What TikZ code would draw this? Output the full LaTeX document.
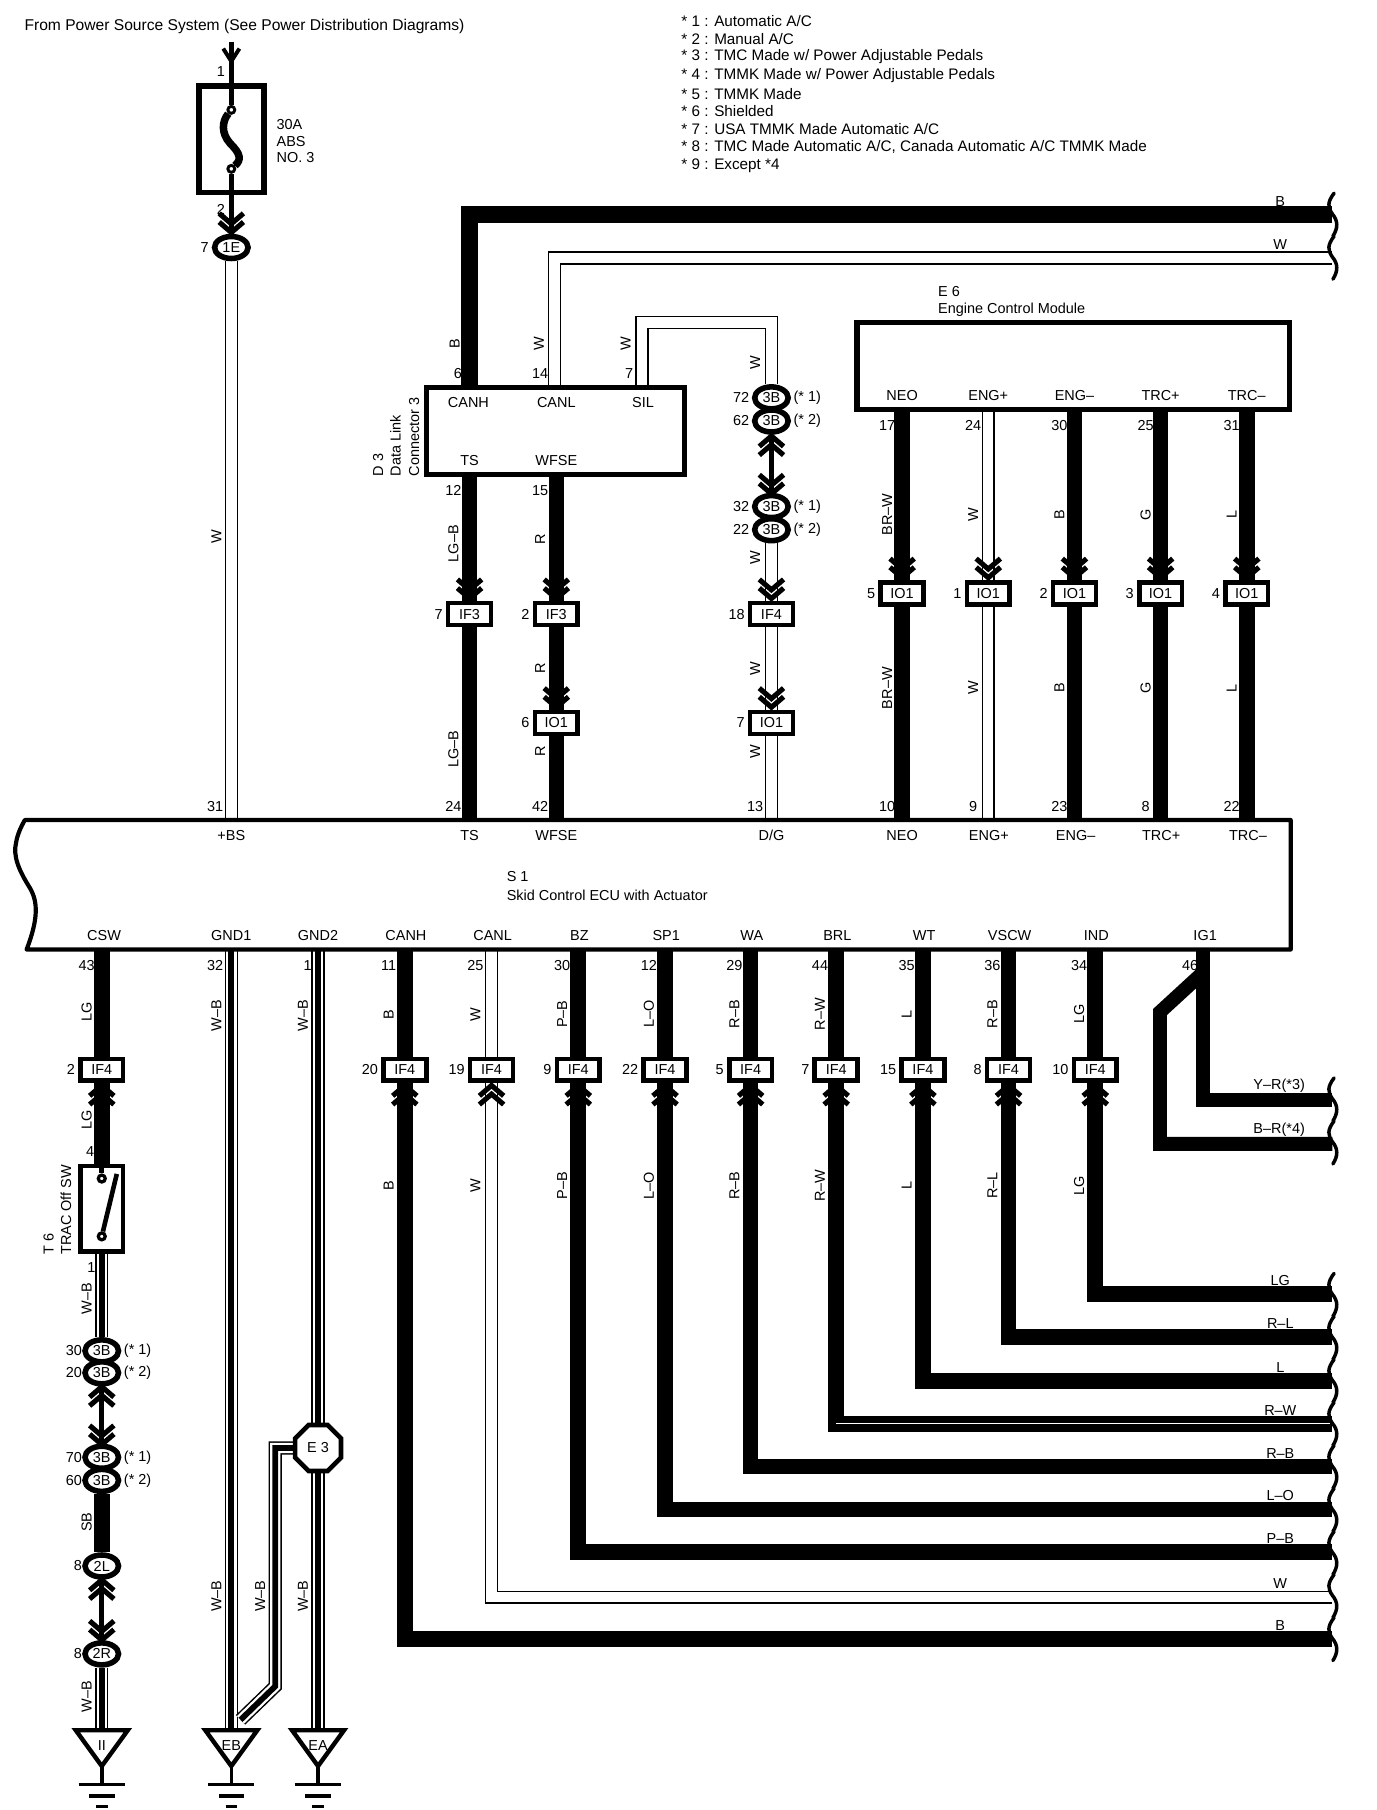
\documentclass[tikz,border=0pt]{standalone}
\usepackage{fontspec}
\setmainfont{Liberation Sans}
\usetikzlibrary{shapes.geometric,calc}
\pgfdeclarelayer{paper}
\pgfdeclarelayer{wires}
\pgfsetlayers{paper,wires,main}
\newcounter{tc}
\tikzset{
  txt/.style={inner sep=0pt,font=\fontsize{12.5}{13}\selectfont},
  bwire/.style={line width=13.5,draw=black,line join=miter},
  wwire/.style={double=white,double distance=9,line width=1.3,draw=black,line join=miter},
  corewire/.style={line width=5,draw=black,line join=miter},
  thinarrow/.style={line width=4,draw=black},
  cbox/.style={draw=black,fill=white,line width=4,minimum width=37,minimum height=19,inner sep=0pt,font=\fontsize{12.5}{13}\selectfont},
  oval/.style={ellipse,draw=black,fill=white,line width=4.8,minimum width=29,minimum height=19,inner sep=0pt,font=\fontsize{12.5}{13}\selectfont},
  bigbox/.style={draw=black,line width=4.5,inner sep=0pt},
  chev/.style={line width=4.4,draw=black,line join=miter},
  brk/.style={line width=3,draw=black,line cap=round},
}
\newcommand\tx[3]{\stepcounter{tc}\node[txt,name=t\arabic{tc}] at (#1,#2) {#3};}
\newcommand\lx[3]{\stepcounter{tc}\node[txt,anchor=west,name=t\arabic{tc}] at (#1,#2) {#3};}
\newcommand\rx[3]{\stepcounter{tc}\node[txt,anchor=east,name=t\arabic{tc}] at (#1,#2) {#3};}
\newcommand\vx[3]{\stepcounter{tc}\node[txt,rotate=90,name=t\arabic{tc}] at (#1,#2) {#3};}
\newcommand\vl[3]{\stepcounter{tc}\node[txt,rotate=90,anchor=west,name=t\arabic{tc}] at (#1,#2) {#3};}
\newcommand\onw[1]{\begin{pgfonlayer}{wires}#1\end{pgfonlayer}}
% chevrons: #1 x, #2 y of the tip
\newcommand\chevd[2]{\draw[chev] (#1-10.5,#2-12) -- (#1,#2-3) -- (#1+10.5,#2-12);\draw[chev] (#1-10.5,#2-19.5) -- (#1,#2-10.5) -- (#1+10.5,#2-19.5);}
\newcommand\chevu[2]{\draw[chev] (#1-10.5,#2+12) -- (#1,#2+3) -- (#1+10.5,#2+12);\draw[chev] (#1-10.5,#2+19.5) -- (#1,#2+10.5) -- (#1+10.5,#2+19.5);}
\newcommand\brkline[2]{\foreach \k in {1,...,#2}{\pgfmathsetmacro\yy{#1+37.2*(\k-1)}
  \draw[brk] (1153.5,\yy) .. controls (1147.5,\yy+8) and (1148,\yy+12) .. (1152,\yy+18) .. controls (1157,\yy+24) and (1157,\yy+30) .. (1152.5,\yy+37.2);}}
\newcommand\gnd[3]{%
  \coordinate (#1top) at (#2,1495);
  \draw[line width=3.8,fill=white,line join=miter] (#2-22.5,1496) -- (#2+22.5,1496) -- (#2,1527) -- cycle;
  \node[txt,name=#1] at (#2,1509) {#3};
  \draw[line width=3] (#2,1528) -- (#2,1543);
  \draw[line width=3] (#2-20,1543) -- (#2+20,1543);
  \draw[line width=3] (#2-11,1553) -- (#2+11,1553);
  \draw[line width=3] (#2-5,1562) -- (#2+5,1562);
}
\begin{document}
\begin{tikzpicture}[x=1pt,y=-1pt]
\useasboundingbox (0,0) rectangle (1190,1565);
\begin{pgfonlayer}{paper}\fill[white] (0,0) rectangle (1190,1565);\end{pgfonlayer}

% ---------- titles and notes
\stepcounter{tc}\node[txt,anchor=west,name=title,font=\fontsize{13.5}{14}\selectfont] at (21,22.5) {From Power Source System (See Power Distribution Diagrams)};
\foreach \yy/\s in {18.5/{* 1 : Automatic A/C},34/{* 2 : Manual A/C},49/{* 3 : TMC Made w/ Power Adjustable Pedals},65/{* 4 : TMMK Made w/ Power Adjustable Pedals},81/{* 5 : TMMK Made},96/{* 6 : Shielded},112/{* 7 : USA TMMK Made Automatic A/C},127/{* 8 : TMC Made Automatic A/C, Canada Automatic A/C TMMK Made},143.5/{* 9 : Except *4}}{
  \stepcounter{tc}\node[txt,anchor=west,name=t\arabic{tc},font=\fontsize{13.2}{14}\selectfont] at (589,\yy) {\s};
}

% ---------- ECU S1
\draw[line width=3.6,line join=round] (21.5,709) -- (1116,709) -- (1116,821) -- (23,821)
  .. controls (33,795) and (33,780) .. (26,768)
  .. controls (16,752) and (11,740) .. (14,728)
  .. controls (15,722) and (18,715) .. (21.5,709) -- cycle;
\lx{438}{758}{S 1}
\lx{438}{774}{Skid Control ECU with Actuator}

% ---------- fuse
\node[draw=black,line width=5,minimum width=56,minimum height=92,inner sep=0pt] (fuse) at (200,120.5) {};
\coordinate (feed) at (200,36);
\node[circle,draw=black,fill=white,line width=2.5,minimum size=6,inner sep=0pt] (fc1) at (200,95) {};
\node[circle,draw=black,fill=white,line width=2.5,minimum size=6,inner sep=0pt] (fc2) at (200,146) {};
\node[oval] (c1E) at (200,214) {1E};
\onw{\draw[line width=4] (feed) -- (fc1);
  \draw[line width=4] (fc2) -- (c1E);}
\draw[line width=6.5] (fc1) .. controls (192,105) and (191,115) .. (199,124) .. controls (208,133) and (209,138) .. (fc2);
\draw[line width=3.4] (193,42) -- (200,53) -- (207,42);
\chevd{200}{204}
\tx{191}{62}{1}\tx{191}{181}{2}
\lx{239}{108}{30A}\lx{239}{122}{ABS}\lx{239}{136}{NO. 3}
\tx{177}{214}{7}
\coordinate (bs) at (200,709);
\onw{\draw[wwire] (c1E) -- (bs);}
\vx{187}{464}{W}\tx{186}{697}{31}

% ---------- top pin labels of the ECU
\foreach \n/\x in {+BS/200,TS/406,WFSE/481,D\slash G/667,NEO/780,ENG+/855,ENG–/930,TRC+/1004,TRC–/1079}{\tx{\x}{722}{\n}}

% ---------- D3
\node[bigbox,minimum width=223,minimum height=75] (d3) at (480.5,372.5) {};
\tx{405}{348}{CANH}\tx{481}{348}{CANL}\tx{556}{348}{SIL}\tx{406}{398}{TS}\tx{481}{398}{WFSE}
\vl{327}{412}{D 3}\vl{342}{412}{Data Link}\vl{358}{412}{Connector 3}
\coordinate (bkB) at (1152,185.5);
\coordinate (bkW) at (1152,223);
\coordinate (pinH) at (406,335);
\coordinate (pinL) at (479.5,335);
\coordinate (pinS) at (555,335);
\coordinate (pinD) at (667,335);
\node[oval] (c72) at (667,344) {3B};
\node[oval] (c62) at (667,364) {3B};
\onw{\draw[bwire,line width=15] (bkB) -| (pinH);
  \draw[wwire] (bkW) -| (pinL);
  \draw[wwire] (pinS) |- (667,279) -- (c72);}
\vx{393}{297}{B}\vx{466}{297}{W}\vx{541}{297}{W}\vx{653}{314}{W}
\tx{396}{323}{6}\tx{467}{323}{14}\tx{544}{323}{7}
\tx{1107}{174}{B}\tx{1107}{211}{W}
\brkline{167}{2}

% ---------- D/G column
\rx{648}{344}{72}\rx{648}{364}{62}\lx{686}{344}{(* 1)}\lx{686}{364}{(* 2)}
\node[oval] (c32) at (667,438) {3B};
\node[oval] (c22) at (667,458) {3B};
\onw{\draw[thinarrow] (c62) -- (c32);}
\chevu{667}{374}\chevd{667}{430}
\rx{648}{438}{32}\rx{648}{458}{22}\lx{686}{438}{(* 1)}\lx{686}{458}{(* 2)}
\node[cbox] (dgIF) at (667,531) {IF4};
\node[cbox] (dgIO) at (667,625) {IO1};
\coordinate (dg) at (667,709);
\onw{\draw[wwire] (c22) -- (dgIF);\draw[wwire] (dgIF) -- (dgIO);\draw[wwire] (dgIO) -- (dg);}
\chevd{667}{520.5}\chevd{667}{614.5}
\vx{653}{482}{W}\vx{653}{578}{W}\vx{653}{650}{W}
\rx{644}{531}{18}\rx{644}{625}{7}\tx{653}{697}{13}

% ---------- TS and WFSE columns
\node[cbox] (tsIF) at (406,531) {IF3};
\node[cbox] (wfIF) at (481,531) {IF3};
\node[cbox] (wfIO) at (481,625) {IO1};
\coordinate (d3ts) at (406,412);\coordinate (d3wf) at (481,412);
\coordinate (ets) at (406,709);\coordinate (ewf) at (481,709);
\onw{\draw[bwire] (d3ts) -- (tsIF);\draw[bwire] (tsIF) -- (ets);
  \draw[bwire] (d3wf) -- (wfIF);\draw[bwire] (wfIF) -- (wfIO);\draw[bwire] (wfIO) -- (ewf);}
\chevd{406}{520.5}\chevd{481}{520.5}\chevd{481}{614.5}
\tx{392}{424}{12}\tx{467}{424}{15}
\vx{392}{470}{LG–B}\vx{467}{466}{R}\vx{392}{648}{LG–B}\vx{467}{578}{R}\vx{467}{650}{R}
\rx{383}{531}{7}\rx{458}{531}{2}\rx{458}{625}{6}
\tx{392}{697}{24}\tx{467}{697}{42}

% ---------- E6
\node[bigbox,minimum width=374,minimum height=75] (e6) at (928,316.5) {};
\lx{811}{252}{E 6}\lx{811}{268}{Engine Control Module}
\foreach \i/\x/\nm/\up/\st/\wl/\cn/\ln in {a/780/NEO/17/bwire/BR–W/5/10,b/854.5/ENG+/24/wwire/W/1/9,c/929/ENG–/30/bwire/B/2/23,d/1003.5/TRC+/25/bwire/G/3/8,e/1078/TRC–/31/bwire/L/4/22}{
  \tx{\x}{342}{\nm}
  \tx{\x-13}{368}{\up}
  \coordinate (etop\i) at (\x,354);
  \coordinate (ebot\i) at (\x,709);
  \node[cbox] (io\i) at (\x,513) {IO1};
  \onw{\draw[\st] (etop\i) -- (io\i);\draw[\st] (io\i) -- (ebot\i);}
  \chevd{\x}{502.5}
  \vx{\x-13}{445}{\wl}\vx{\x-13}{595}{\wl}
  \rx{\x-23}{513}{\cn}
  \tx{\x-13}{697}{\ln}
}

% ---------- ECU bottom columns
\tx{90}{809}{CSW}\tx{200}{809}{GND1}\tx{275}{809}{GND2}\tx{1042}{809}{IG1}
\tx{75}{835}{43}\tx{186}{835}{32}\tx{266}{835}{1}\tx{1029}{835}{46}
\foreach \i/\x/\nm/\pn/\st/\ua/\ub/\cn/\yb in {
  p/350/CANH/11/bwire/B/B/20/1417,
  q/425/CANL/25/wwire/W/W/19/1381,
  r/500/BZ/30/bwire/P–B/P–B/9/1342,
  s/575/SP1/12/bwire/L–O/L–O/22/1305,
  t/649/WA/29/bwire/R–B/R–B/5/1268,
  u/723/BRL/44/bwire/R–W/R–W/7/1231,
  v/798/WT/35/bwire/L/L/15/1194,
  w/872/VSCW/36/bwire/R–B/R–L/8/1156,
  x/947/IND/34/bwire/LG/LG/10/1119}{
  \tx{\x+1}{809}{\nm}
  \tx{\x-14}{835}{\pn}
  \coordinate (bp\i) at (\x,821);
  \coordinate (bk\i) at (1152,\yb);
  \node[cbox] (if\i) at (\x,925) {IF4};
  \onw{\draw[\st] (bp\i) -- (if\i);\draw[\st] (if\i) |- (bk\i);}
  \chevu{\x}{935.5}
  \vx{\x-14}{877}{\ua}\vx{\x-14}{1025}{\ub}
  \rx{\x-23}{925}{\cn}
  \tx{1107}{\yb-11.5}{\ub}
}
\draw[white,line width=0.9] (723,1231) -- (1150,1231);
\brkline{1101}{9}

% ---------- IG1
\coordinate (ig) at (1040,821);
\coordinate (igA) at (1152,951);
\coordinate (igB) at (1152,989);
\coordinate (igS) at (1040,841);
\coordinate (igC) at (1003,875);
\onw{\draw[line width=12.5,line join=miter] (ig) |- (igA);
  \draw[line width=12,line join=miter] (igS) -- (igC) |- (igB);}
\tx{1106}{939}{Y–R(*3)}\tx{1106}{977}{B–R(*4)}
\brkline{932}{2}

% ---------- CSW column with T6
\node[cbox] (csIF) at (88,925) {IF4};
\node[draw=black,fill=white,line width=4,minimum width=37,minimum height=74,inner sep=0pt] (t6) at (88,1045) {};
\coordinate (csw) at (88,821);
\onw{\draw[bwire] (csw) -- (csIF);\draw[bwire] (csIF) -- (t6);}
\chevu{88}{935.5}
\rx{65}{925}{2}
\vx{75}{875}{LG}\vx{75}{968}{LG}\tx{78}{996}{4}
\vl{42}{1085}{T 6}\vl{57}{1085}{TRAC Off SW}
\node[circle,draw=black,fill=white,line width=2.8,minimum size=6,inner sep=0pt] (sw1) at (88,1019) {};
\node[circle,draw=black,fill=white,line width=2.8,minimum size=6,inner sep=0pt] (sw2) at (88,1069) {};
\draw[line width=4] (88,1006) -- (sw1);
\draw[line width=4] (sw2) -- (101,1015);
\node[oval] (c30) at (88,1168) {3B};
\node[oval] (c20) at (88,1187) {3B};
\node[oval] (c70) at (88,1260) {3B};
\node[oval] (c60) at (88,1280) {3B};
\node[oval] (c2L) at (88,1354) {2L};
\node[oval] (c2R) at (88,1430) {2R};
\onw{\draw[wwire] (t6) -- (c30);\draw[corewire] (t6) -- (c30);
  \draw[thinarrow] (c20) -- (c70);
  \draw[bwire] (c60) -- (c2L);
  \draw[thinarrow] (c2L) -- (c2R);}
\chevu{88}{1196}\chevd{88}{1252}\chevu{88}{1363}\chevd{88}{1421}
\tx{79}{1096}{1}\vx{75}{1123}{W–B}
\rx{71}{1168}{30}\rx{71}{1187}{20}\rx{71}{1260}{70}\rx{71}{1280}{60}
\lx{107}{1168}{(* 1)}\lx{107}{1187}{(* 2)}\lx{107}{1260}{(* 1)}\lx{107}{1280}{(* 2)}
\vx{75}{1316}{SB}\rx{71}{1354}{8}\rx{71}{1430}{8}\vx{75}{1467}{W–B}

% ---------- grounds
\gnd{gII}{88}{II}
\gnd{gEB}{200}{EB}
\gnd{gEA}{275}{EA}
\onw{\draw[wwire] (c2R) -- (gIItop);\draw[corewire] (c2R) -- (gIItop);}
\coordinate (gnd1) at (200,821);
\coordinate (gnd2) at (275,821);
\node[regular polygon,regular polygon sides=8,draw=black,fill=white,line width=4,minimum size=43,inner sep=0pt,font=\fontsize{12.5}{13}\selectfont] (e3) at (275,1252) {E 3};
\coordinate (e3a) at (238,1252);
\coordinate (e3b) at (238,1458);
\coordinate (e3c) at (208,1487);
\onw{\draw[wwire] (gnd1) -- (gEBtop);\draw[corewire] (gnd1) -- (gEBtop);
  \draw[wwire] (gnd2) -- (e3);\draw[corewire] (gnd2) -- (e3);
  \draw[wwire] (e3) -- (gEAtop);\draw[corewire] (e3) -- (gEAtop);
  \draw[wwire] (e3.west) -- (e3a) -- (e3b) -- (e3c);\draw[corewire] (e3.west) -- (e3a) -- (e3b) -- (e3c);}
\vx{187}{878}{W–B}\vx{262}{878}{W–B}\vx{187}{1380}{W–B}\vx{225}{1380}{W–B}\vx{262}{1380}{W–B}
\end{tikzpicture}
\end{document}
